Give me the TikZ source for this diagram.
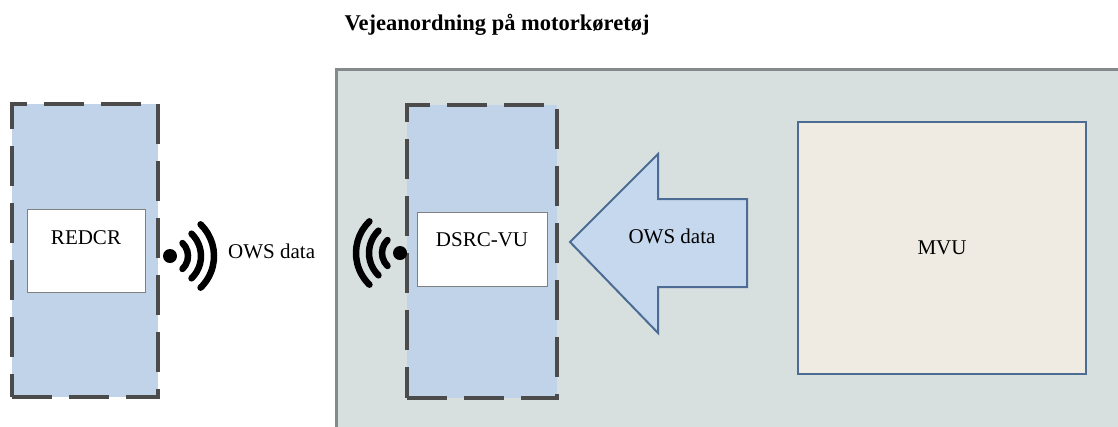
\documentclass[tikz,border=0pt]{standalone}
\usepackage{fontspec}
\setmainfont{Liberation Serif}
\definecolor{panelgray}{RGB}{215,224,222}
\definecolor{panelline}{RGB}{132,138,138}
\definecolor{unitblue}{RGB}{192,211,232}
\definecolor{dashgray}{RGB}{75,75,75}
\definecolor{arrowblue}{RGB}{198,216,238}
\definecolor{steelline}{RGB}{76,108,148}
\definecolor{mvucream}{RGB}{239,235,227}
\tikzset{
  airwave/.pic={
    \fill (0,0) circle (7);
    \foreach \r in {18,31,44}
      \draw[line width=6.5pt, line cap=round] (-46:\r) arc (-46:46:\r);
  }
}

\begin{document}
\begin{tikzpicture}[x=1pt,y=-1pt,font=\fontsize{21}{25}\selectfont,
  unit/.style={draw=dashgray, fill=unitblue, line width=4pt, dash pattern=on 40pt off 17pt, inner sep=0pt},
  card/.style={draw=gray, fill=white, line width=0.8pt, inner sep=0pt}]
\useasboundingbox (0,0) rectangle (1118,426);
\fill[panelgray, draw=panelline, line width=3pt] (336,69) rectangle (1135,440);
\node[font=\fontsize{22.5}{27}\selectfont\bfseries, anchor=base] (title) at (497,30) {Vejeanordning på motorkøretøj};

\node[unit, minimum width=146pt, minimum height=293pt] (redunit) at (85,250.5) {};
\node[card, minimum width=118pt, minimum height=83pt] (redcrbox) at (86,250.5) {};
\node[anchor=base] (redcr) at ([yshift=-36pt]redcrbox.north) {REDCR};

\node[unit, minimum width=150pt, minimum height=293pt] (dsrcunit) at (482,251.5) {};
\node[card, minimum width=130pt, minimum height=74pt] (dsrcbox) at (482,249) {};
\node[anchor=base] (dsrc) at ([yshift=-35pt]dsrcbox.north) {DSRC-VU};

\pic at (170,256) {airwave};
\pic[xscale=-1] at (400,253) {airwave};
\node[anchor=base west, inner sep=0pt] (owsair) at (228,258) {OWS data};

\draw[fill=arrowblue, draw=steelline, line width=2pt, line join=miter] (570,242) -- (658,154) -- (658,199) -- (747,199) -- (747,287) -- (658,287) -- (658,333) -- cycle;
\node[anchor=base] (owsflow) at (672,243) {OWS data};

\node[draw=steelline, fill=mvucream, line width=2.5pt, minimum width=288pt, minimum height=252pt] (mvu) at (942,248) {MVU};
\end{tikzpicture}
\end{document}
